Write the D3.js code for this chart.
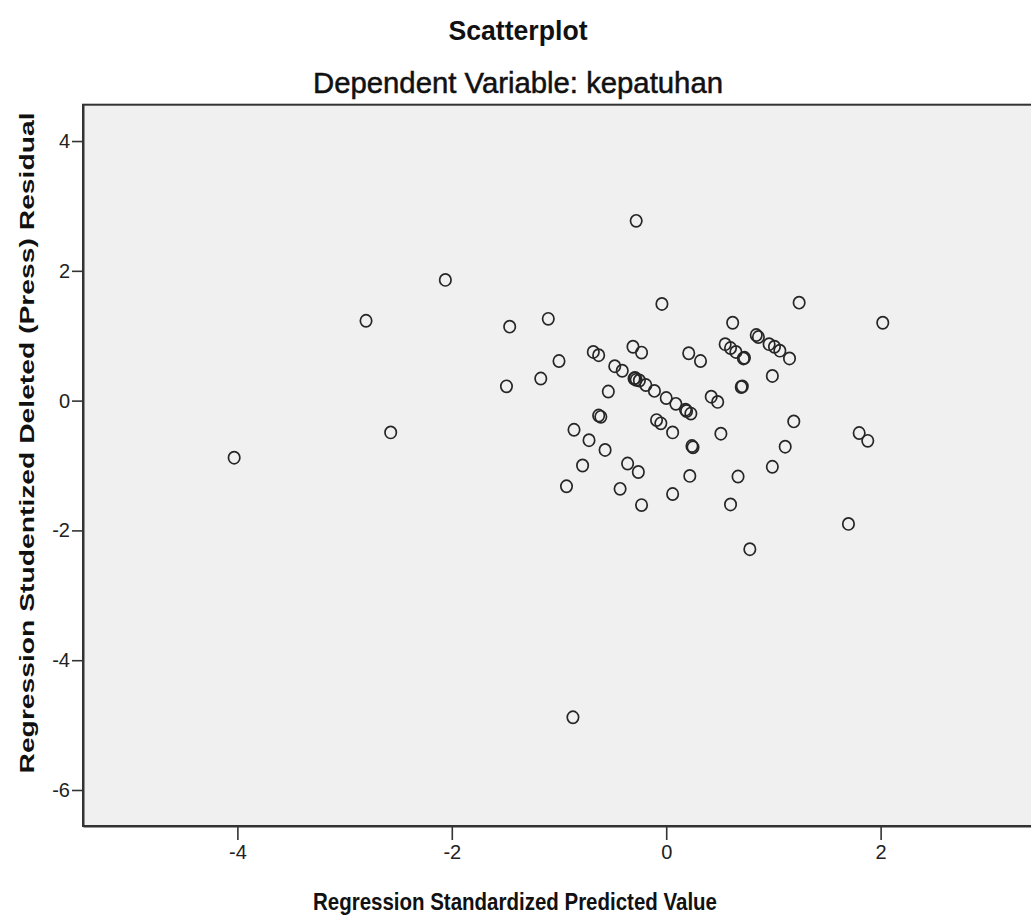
<!DOCTYPE html>
<html>
<head>
<meta charset="utf-8">
<script src="https://cdn.jsdelivr.net/npm/d3@7"></script>
<style>
  html, body { margin: 0; padding: 0; background: #ffffff; }
  svg { display: block; }
</style>
</head>
<body>
<script>
// ---- Data ----
const predicted = [
  -4.03, -2.80, -2.57, -2.06, -1.49, -1.46, -1.17, -1.10, -1.00, -0.93,
  -0.87, -0.86, -0.78, -0.72, -0.68, -0.63, -0.63, -0.61, -0.57, -0.54,
  -0.48, -0.41, -0.43, -0.36, -0.31, -0.30, -0.29, -0.28, -0.25, -0.28,
  -0.26, -0.23, -0.23, -0.19, -0.11, -0.09, -0.05, -0.04, 0.00, 0.06,
  0.06, 0.09, 0.18, 0.19, 0.23, 0.21, 0.22, 0.24, 0.25, 0.32,
  0.42, 0.48, 0.51, 0.55, 0.60, 0.65, 0.60, 0.62, 0.67, 0.70,
  0.71, 0.72, 0.73, 0.78, 0.84, 0.86, 0.96, 0.99, 0.99, 1.01,
  1.06, 1.11, 1.15, 1.19, 1.24, 1.70, 1.80, 1.88, 2.02
];
const residual = [
  -0.88, 1.23, -0.49, 1.86, 0.22, 1.14, 0.34, 1.26, 0.61, -1.32,
  -4.88, -0.45, -1.00, -0.61, 0.75, 0.70, -0.23, -0.25, -0.76, 0.14,
  0.53, 0.46, -1.36, -0.97, 0.83, 0.34, 0.35, 0.32, 0.31, 2.77,
  -1.10, 0.74, -1.61, 0.24, 0.15, -0.30, -0.35, 1.49, 0.04, -0.49,
  -1.44, -0.05, -0.14, -0.16, -0.20, 0.73, -1.16, -0.70, -0.72, 0.61,
  0.06, -0.02, -0.51, 0.87, 0.81, 0.75, -1.60, 1.20, -1.17, 0.21,
  0.22, 0.65, 0.66, -2.29, 1.01, 0.98, 0.87, 0.38, -1.02, 0.83,
  0.77, -0.71, 0.65, -0.32, 1.51, -1.90, -0.50, -0.62, 1.20
];
const xTicks = [-4, -2, 0, 2];
const yTicks = [-6, -4, -2, 0, 2, 4];
const xDomain = [-5.44, 3.44];
const yDomain = [-6.555, 4.56];

const titleText = "Scatterplot";
const subtitleText = "Dependent Variable: kepatuhan";
const xLabelText = "Regression Standardized Predicted Value";
const yLabelText = "Regression Studentized Deleted (Press) Residual";

// ---- Layout ----
const W = 1031, H = 916;
const plotLeft = 83, plotRight = 1035, plotTop = 104.7, plotBottom = 826;
const font = "'Liberation Sans', Arial, sans-serif";

const svg = d3.select("body").append("svg")
  .attr("width", W).attr("height", H);

const x = d3.scaleLinear().domain(xDomain).range([plotLeft, plotRight]);
const y = d3.scaleLinear().domain(yDomain).range([plotBottom, plotTop]);

// plot background
svg.append("rect")
  .attr("x", plotLeft).attr("y", plotTop)
  .attr("width", plotRight - plotLeft + 10).attr("height", plotBottom - plotTop)
  .attr("fill", "#f0f0f0")
  .attr("stroke", "#333")
  .attr("stroke-width", 2);

// axes
const xAxis = svg.append("g")
  .attr("transform", `translate(0,${plotBottom})`)
  .call(d3.axisBottom(x).tickValues(xTicks).tickSize(14).tickSizeOuter(0).tickPadding(5).tickFormat(d3.format("d")));
xAxis.select(".domain").attr("stroke", "#333").attr("stroke-width", 2);
xAxis.selectAll(".tick line").attr("stroke", "#333").attr("stroke-width", 1.6);
xAxis.selectAll(".tick text")
  .attr("font-family", font).attr("font-size", 20).attr("fill", "#222")
  .text(d => d < 0 ? "-" + Math.abs(d) : d);

const yAxis = svg.append("g")
  .attr("transform", `translate(${plotLeft},0)`)
  .call(d3.axisLeft(y).tickValues(yTicks).tickSize(11).tickSizeOuter(0).tickPadding(2).tickFormat(d3.format("d")));
yAxis.select(".domain").attr("stroke", "#333").attr("stroke-width", 2);
yAxis.selectAll(".tick line").attr("stroke", "#333").attr("stroke-width", 1.6);
yAxis.selectAll(".tick text")
  .attr("font-family", font).attr("font-size", 20).attr("fill", "#222")
  .text(d => d < 0 ? "-" + Math.abs(d) : d);

// points
svg.append("g").selectAll("ellipse")
  .data(predicted.map((p, i) => [p, residual[i]]))
  .join("ellipse")
  .attr("cx", d => x(d[0]))
  .attr("cy", d => y(d[1]))
  .attr("rx", 5.7).attr("ry", 6.1)
  .attr("fill", "none")
  .attr("stroke", "#262626")
  .attr("stroke-width", 1.7);

// titles
svg.append("text")
  .attr("x", 518).attr("y", 40)
  .attr("text-anchor", "middle")
  .attr("font-family", font).attr("font-weight", "bold").attr("font-size", 27)
  .attr("fill", "#111")
  .attr("textLength", 139).attr("lengthAdjust", "spacingAndGlyphs")
  .text(titleText);

svg.append("text")
  .attr("x", 518).attr("y", 93)
  .attr("text-anchor", "middle")
  .attr("font-family", font).attr("font-size", 29)
  .attr("fill", "#111")
  .attr("stroke", "#111").attr("stroke-width", 0.5)
  .attr("textLength", 410).attr("lengthAdjust", "spacingAndGlyphs")
  .text(subtitleText);

svg.append("text")
  .attr("x", 515).attr("y", 910)
  .attr("text-anchor", "middle")
  .attr("font-family", font).attr("font-weight", "bold").attr("font-size", 23)
  .attr("fill", "#111")
  .attr("textLength", 404).attr("lengthAdjust", "spacingAndGlyphs")
  .text(xLabelText);

svg.append("text")
  .attr("transform", `translate(34,443) rotate(-90)`)
  .attr("text-anchor", "middle")
  .attr("font-family", font).attr("font-weight", "bold").attr("font-size", 21)
  .attr("fill", "#111")
  .attr("textLength", 661).attr("lengthAdjust", "spacingAndGlyphs")
  .text(yLabelText);
</script>
</body>
</html>
